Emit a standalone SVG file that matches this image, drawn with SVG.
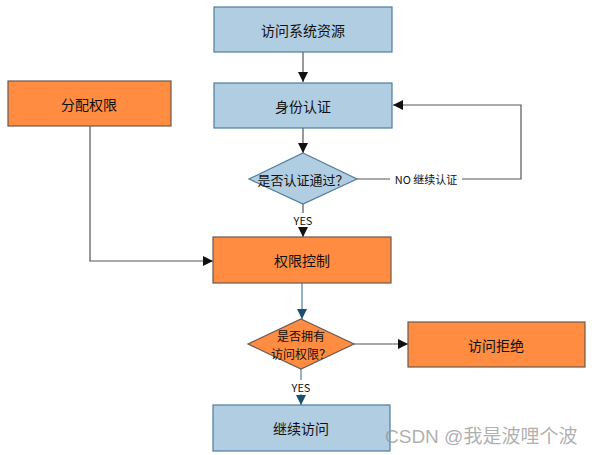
<svg xmlns="http://www.w3.org/2000/svg" width="592" height="455" viewBox="0 0 592 455">
<defs>
<marker id="ah" viewBox="0 0 10 10" refX="10" refY="5" markerWidth="10" markerHeight="10" markerUnits="userSpaceOnUse" orient="auto"><path d="M0,0 L10,5 L0,10 z" fill="#111"/></marker>
<marker id="ahb" viewBox="0 0 10 10" refX="10" refY="5" markerWidth="10" markerHeight="10" markerUnits="userSpaceOnUse" orient="auto"><path d="M0,0 L10,5 L0,10 z" fill="#1d4e6e"/></marker>
</defs>
<style>
.blue{fill:#b0cde2;stroke:#4f7d9e;stroke-width:1.2}
.orange{fill:#ff8c40;stroke:#6a5a50;stroke-width:1.2}
.t{font-family:"Noto Sans CJK SC","Liberation Sans",sans-serif;font-size:14px;fill:#111;text-anchor:middle;dominant-baseline:central}
.d{font-family:"Noto Sans CJK SC","Liberation Sans",sans-serif;font-size:12px;fill:#111;text-anchor:middle;dominant-baseline:central}
.s{font-family:"Noto Sans CJK SC","Liberation Sans",sans-serif;font-size:11px;fill:#111;text-anchor:middle;dominant-baseline:central}
.c{fill:none;stroke:#555;stroke-width:1.2}
.cb{fill:none;stroke:#4f7f99;stroke-width:1.2}
.wm{font-family:"Liberation Sans","Noto Sans CJK SC",sans-serif;font-size:19px;fill:#9a9a9a;fill-opacity:0.8}
</style>
<g id="connectors">
<path class="c" d="M303,52 V82" marker-end="url(#ah)"/>
<path class="c" d="M303,128 V153" marker-end="url(#ah)"/>
<path class="c" d="M303,204 V237" marker-end="url(#ah)"/>
<path class="c" d="M357,179 H521 V105 H393" marker-end="url(#ah)"/>
<path class="c" d="M90,126 V261 H213" marker-end="url(#ah)"/>
<path class="cb" d="M302,283 V319" marker-end="url(#ahb)"/>
<path class="c" d="M354,344 H408" marker-end="url(#ah)"/>
<path class="cb" d="M301,369 V405" marker-end="url(#ahb)"/>
<rect x="300" y="213" width="18" height="14" fill="#fff"/>
<text class="s" x="303" y="220">YES</text>
<rect x="292" y="380" width="18" height="14" fill="#fff"/>
<text class="s" x="301" y="387">YES</text>
<rect x="390" y="171" width="72" height="16" fill="#fff"/>
<text class="s" x="426" y="179">NO 继续认证</text>
</g>
<g id="n1"><rect class="blue" x="214" y="7" width="178" height="45"/><text class="t" x="303" y="30">访问系统资源</text></g>
<g id="n2"><rect class="blue" x="214" y="83" width="178" height="45"/><text class="t" x="303" y="106">身份认证</text></g>
<g id="d1"><polygon class="blue" points="303,153 357,179 303,204 249,179"/><text class="t" x="303" y="179" style="font-size:13px">是否认证通过？</text></g>
<g id="n0"><rect class="orange" x="8" y="81" width="163" height="45"/><text class="t" x="89" y="104">分配权限</text></g>
<g id="n3"><rect class="orange" x="213" y="237" width="178" height="46"/><text class="t" x="302" y="260">权限控制</text></g>
<g id="d2"><polygon class="orange" points="301,319 354,344 301,369 248,344"/><text class="d" x="301" y="335">是否拥有</text><text class="d" x="301" y="353">访问权限？</text></g>
<g id="n4"><rect class="orange" x="408" y="322" width="177" height="45"/><text class="t" x="496" y="345">访问拒绝</text></g>
<g id="n5"><rect class="blue" x="213" y="405" width="177" height="46"/><text class="t" x="301" y="428">继续访问</text></g>
<text class="wm" x="385" y="443">CSDN @我是波哩个波</text>
</svg>
